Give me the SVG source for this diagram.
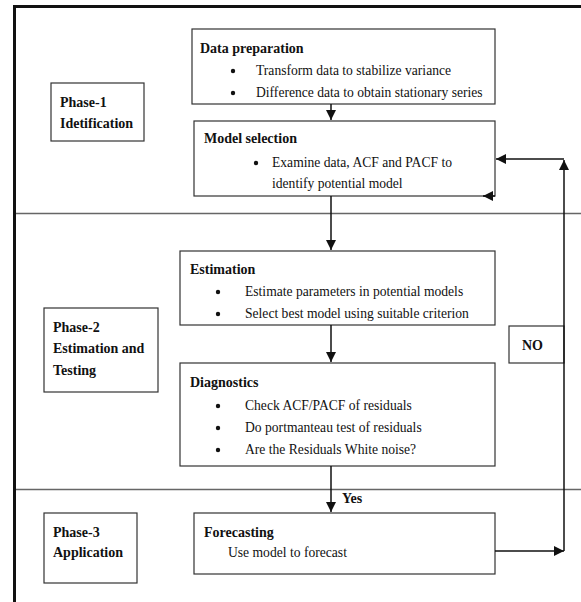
<svg xmlns="http://www.w3.org/2000/svg" width="581" height="602" viewBox="0 0 581 602">
<style>
.box{fill:#fff;stroke:#333;stroke-width:1.2}
.t{font-size:13.6px;fill:#111}
.b{font-weight:bold;font-size:14px}
.ln{stroke:#111;stroke-width:1.5;fill:none}
.sep{stroke:#666;stroke-width:1.5}
.dot{fill:#111}
</style>
<defs>
<marker id="ah" viewBox="0 0 10 10" refX="10" refY="5" markerWidth="10" markerHeight="10" markerUnits="userSpaceOnUse" orient="auto"><path d="M0,0 L10,5 L0,10 z" fill="#111"/></marker>
</defs>
<rect x="0" y="0" width="581" height="602" fill="#fff"/>
<g font-family="'Liberation Serif', 'Times New Roman', Times, serif">
<g id="frame">
<line x1="14.5" y1="6.5" x2="581" y2="6.5" stroke="#111" stroke-width="3"/>
<line x1="14.5" y1="5" x2="14.5" y2="602" stroke="#111" stroke-width="3"/>
<line class="sep" x1="16" y1="213.5" x2="581" y2="213.5"/>
<line class="sep" x1="16" y1="489.5" x2="581" y2="489.5"/>
</g>
<g id="phase1">
<rect class="box" x="51" y="83" width="93" height="58"/>
<text class="t b" x="60" y="107">Phase-1</text>
<text class="t b" x="60" y="128">Idetification</text>
</g>
<g id="phase2">
<rect class="box" x="44" y="308" width="114" height="84"/>
<text class="t b" x="53" y="332">Phase-2</text>
<text class="t b" x="53" y="353">Estimation and</text>
<text class="t b" x="53" y="375">Testing</text>
</g>
<g id="phase3">
<rect class="box" x="44" y="513" width="93" height="70"/>
<text class="t b" x="53" y="537">Phase-3</text>
<text class="t b" x="53" y="557">Application</text>
</g>
<g id="dataprep">
<rect class="box" x="192" y="29" width="303" height="75"/>
<text class="t b" x="200" y="53">Data preparation</text>
<circle class="dot" cx="233" cy="71" r="2.2"/>
<text class="t" x="256" y="75">Transform data to stabilize variance</text>
<circle class="dot" cx="233" cy="93" r="2.2"/>
<text class="t" x="256" y="97">Difference data to obtain stationary series</text>
</g>
<g id="modelsel">
<rect class="box" x="194" y="121" width="301" height="75"/>
<text class="t b" x="204" y="143">Model selection</text>
<circle class="dot" cx="256" cy="163" r="2.2"/>
<text class="t" x="272" y="167">Examine data, ACF and PACF to</text>
<text class="t" x="272" y="188">identify  potential model</text>
</g>
<g id="estimation">
<rect class="box" x="180" y="251" width="315" height="74"/>
<text class="t b" x="190" y="274">Estimation</text>
<circle class="dot" cx="218" cy="292" r="2.2"/>
<text class="t" x="245" y="296">Estimate parameters in potential models</text>
<circle class="dot" cx="218" cy="314" r="2.2"/>
<text class="t" x="245" y="318">Select best model using suitable criterion</text>
</g>
<g id="diagnostics">
<rect class="box" x="180" y="363" width="315" height="103"/>
<text class="t b" x="190" y="387">Diagnostics</text>
<circle class="dot" cx="218" cy="406" r="2.2"/>
<text class="t" x="245" y="410">Check ACF/PACF of residuals</text>
<circle class="dot" cx="218" cy="428" r="2.2"/>
<text class="t" x="245" y="432">Do portmanteau test of residuals</text>
<circle class="dot" cx="218" cy="450" r="2.2"/>
<text class="t" x="245" y="454">Are the Residuals White noise?</text>
</g>
<g id="forecasting">
<rect class="box" x="194" y="513" width="301" height="61"/>
<text class="t b" x="204" y="537">Forecasting</text>
<text class="t" x="228" y="557">Use model to forecast</text>
</g>
<g id="no">
<rect class="box" x="509" y="326" width="55" height="37"/>
<text class="t b" x="522" y="350">NO</text>
</g>
<g id="connectors">
<line class="ln" x1="331" y1="104" x2="331" y2="120" marker-end="url(#ah)"/>
<line class="ln" x1="331" y1="196" x2="331" y2="250" marker-end="url(#ah)"/>
<line class="ln" x1="331" y1="325" x2="331" y2="362" marker-end="url(#ah)"/>
<line class="ln" x1="331" y1="466" x2="331" y2="512" marker-end="url(#ah)"/>
<text class="t b" x="342" y="503">Yes</text>
<line class="ln" x1="495" y1="551" x2="564" y2="551" marker-end="url(#ah)"/>
<line class="ln" x1="564" y1="551" x2="564" y2="160" marker-end="url(#ah)"/>
<line class="ln" x1="564" y1="159" x2="496" y2="159" marker-end="url(#ah)"/>
<line class="ln" x1="495" y1="196" x2="483" y2="196" marker-end="url(#ah)"/>
</g>
</g>
</svg>
